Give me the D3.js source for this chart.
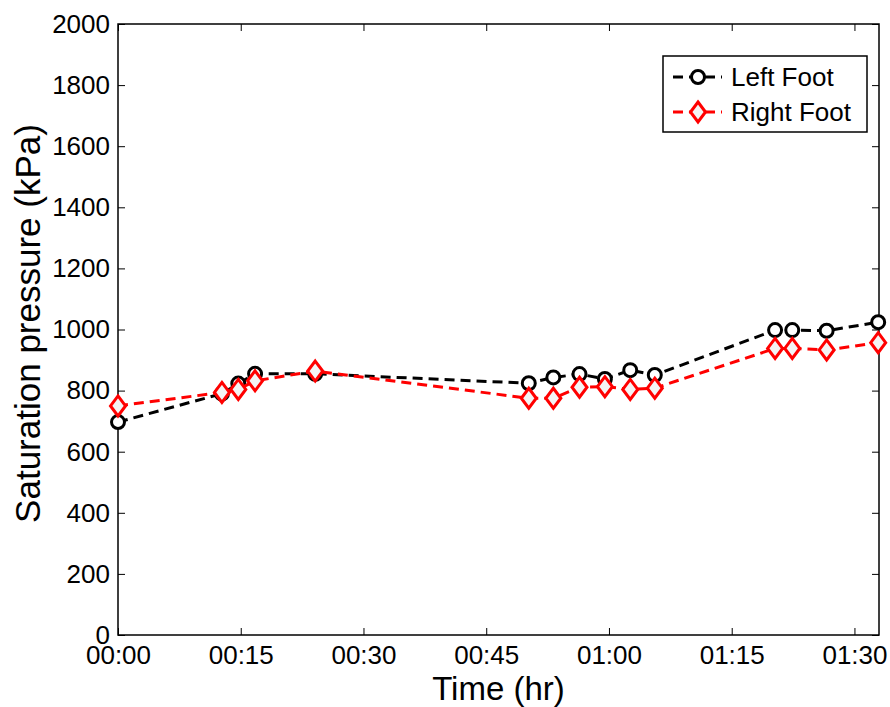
<!DOCTYPE html>
<html>
<head>
<meta charset="utf-8">
<script src="https://cdn.jsdelivr.net/npm/d3@7"></script>
<style>
  body { margin: 0; background: #fff; }
  svg { font-family: "Liberation Sans", Arial, sans-serif; }
</style>
</head>
<body>
<div class="chart"></div>
<script>
// time in minutes since start
var minutes = [0, 12.7, 14.7, 16.75, 24.1, 50.2, 53.2, 56.4, 59.5, 62.6, 65.6, 80.3, 82.4, 86.6, 92.9];
var leftFoot = [697, 790, 823, 855, 855, 824, 843, 854, 838, 867, 851, 998, 998, 996, 1024];
var rightFoot = [750, 794, 804, 832, 864, 775, 775, 811, 813, 804, 808, 938, 938, 933, 957];
var xTicks = [0, 15, 30, 45, 60, 75, 90];
var yTicks = [0, 200, 400, 600, 800, 1000, 1200, 1400, 1600, 1800, 2000];
var seriesNames = ["Left Foot", "Right Foot"];

var width = 890, height = 707;
var margin = {top: 24, right: 11, bottom: 72, left: 118};

var svg = d3.select(".chart").append("svg")
    .attr("width", width)
    .attr("height", height);

var x = d3.scaleLinear().domain([0, 93]).range([margin.left, width - margin.right]);
var y = d3.scaleLinear().domain([0, 2000]).range([height - margin.bottom, margin.top]);

function fmt(m) {
  var h = Math.floor(m / 60), mm = m % 60;
  return (h < 10 ? "0" : "") + h + ":" + (mm < 10 ? "0" : "") + mm;
}

// axes (ticks point inward, box on all sides)
var x0 = x.range()[0], x1 = x.range()[1], y0 = y.range()[0], y1 = y.range()[1];

svg.append("g")
    .attr("transform", "translate(0," + y0 + ")")
    .call(d3.axisBottom(x).tickValues(xTicks).tickFormat(fmt).tickSizeInner(-7).tickSizeOuter(0).tickPadding(11))
    .call(function(g) {
      g.select(".domain").remove();
      g.selectAll("text").attr("font-size", 26).attr("fill", "#000");
      g.selectAll("line").attr("stroke", "#000");
    });

svg.append("g")
    .attr("transform", "translate(" + x0 + ",0)")
    .call(d3.axisLeft(y).tickValues(yTicks).tickFormat(d3.format("d")).tickSizeInner(-7).tickSizeOuter(0).tickPadding(8))
    .call(function(g) {
      g.select(".domain").remove();
      g.selectAll("text").attr("font-size", 26).attr("fill", "#000");
      g.selectAll("line").attr("stroke", "#000");
    });

svg.append("g")
    .attr("transform", "translate(0," + y1 + ")")
    .call(d3.axisTop(x).tickValues(xTicks).tickFormat("").tickSizeInner(-7).tickSizeOuter(0))
    .call(function(g) { g.select(".domain").remove(); g.selectAll("line").attr("stroke", "#000"); });

svg.append("g")
    .attr("transform", "translate(" + x1 + ",0)")
    .call(d3.axisRight(y).tickValues(yTicks).tickFormat("").tickSizeInner(-7).tickSizeOuter(0))
    .call(function(g) { g.select(".domain").remove(); g.selectAll("line").attr("stroke", "#000"); });

svg.append("rect")
    .attr("x", x0).attr("y", y1)
    .attr("width", x1 - x0).attr("height", y0 - y1)
    .attr("fill", "none").attr("stroke", "#000").attr("stroke-width", 1.5);

// axis titles
svg.append("text")
    .attr("x", (x0 + x1) / 2).attr("y", 700)
    .attr("text-anchor", "middle")
    .attr("font-size", 33)
    .text("Time (hr)");

svg.append("text")
    .attr("transform", "translate(40," + ((y0 + y1) / 2 - 6) + ") rotate(-90)")
    .attr("text-anchor", "middle")
    .attr("font-size", 35)
    .text("Saturation pressure (kPa)");

// lines
var line = d3.line()
    .x(function(d, i) { return x(minutes[i]); })
    .y(function(d) { return y(d); });

function diamond(cx, cy) {
  return "M" + cx + "," + (cy - 10) + "L" + (cx + 7.5) + "," + cy + "L" + cx + "," + (cy + 10) + "L" + (cx - 7.5) + "," + cy + "Z";
}

svg.append("path")
    .datum(leftFoot)
    .attr("d", line)
    .attr("fill", "none").attr("stroke", "#000").attr("stroke-width", 3)
    .attr("stroke-dasharray", "10,6");

svg.selectAll(".lf")
    .data(leftFoot)
  .enter().append("circle")
    .attr("class", "lf")
    .attr("cx", function(d, i) { return x(minutes[i]); })
    .attr("cy", function(d) { return y(d); })
    .attr("r", 6.5)
    .attr("fill", "#fff").attr("stroke", "#000").attr("stroke-width", 3);

svg.append("path")
    .datum(rightFoot)
    .attr("d", line)
    .attr("fill", "none").attr("stroke", "#ff0000").attr("stroke-width", 3)
    .attr("stroke-dasharray", "10,6");

svg.selectAll(".rf")
    .data(rightFoot)
  .enter().append("path")
    .attr("class", "rf")
    .attr("d", function(d, i) { return diamond(x(minutes[i]), y(d)); })
    .attr("fill", "#f4f4f4").attr("stroke", "#ff0000").attr("stroke-width", 3);

// legend
var legend = svg.append("g");
legend.append("rect")
    .attr("x", 663).attr("y", 56).attr("width", 204).attr("height", 76)
    .attr("fill", "#fff").attr("stroke", "#000").attr("stroke-width", 1.5);

var colors = ["#000", "#ff0000"];
seriesNames.forEach(function(name, i) {
  var ly = 77 + i * 35;
  legend.append("line")
      .attr("x1", 673).attr("x2", 722).attr("y1", ly).attr("y2", ly)
      .attr("stroke", colors[i]).attr("stroke-width", 3).attr("stroke-dasharray", "10,6");
  if (i === 0) {
    legend.append("circle").attr("cx", 698).attr("cy", ly).attr("r", 6.5)
        .attr("fill", "#fff").attr("stroke", "#000").attr("stroke-width", 3);
  } else {
    legend.append("path").attr("d", diamond(698, ly))
        .attr("fill", "#f4f4f4").attr("stroke", "#ff0000").attr("stroke-width", 3);
  }
  legend.append("text")
      .attr("x", 731).attr("y", ly).attr("dy", "0.35em")
      .attr("font-size", 26)
      .text(name);
});
</script>
</body>
</html>
